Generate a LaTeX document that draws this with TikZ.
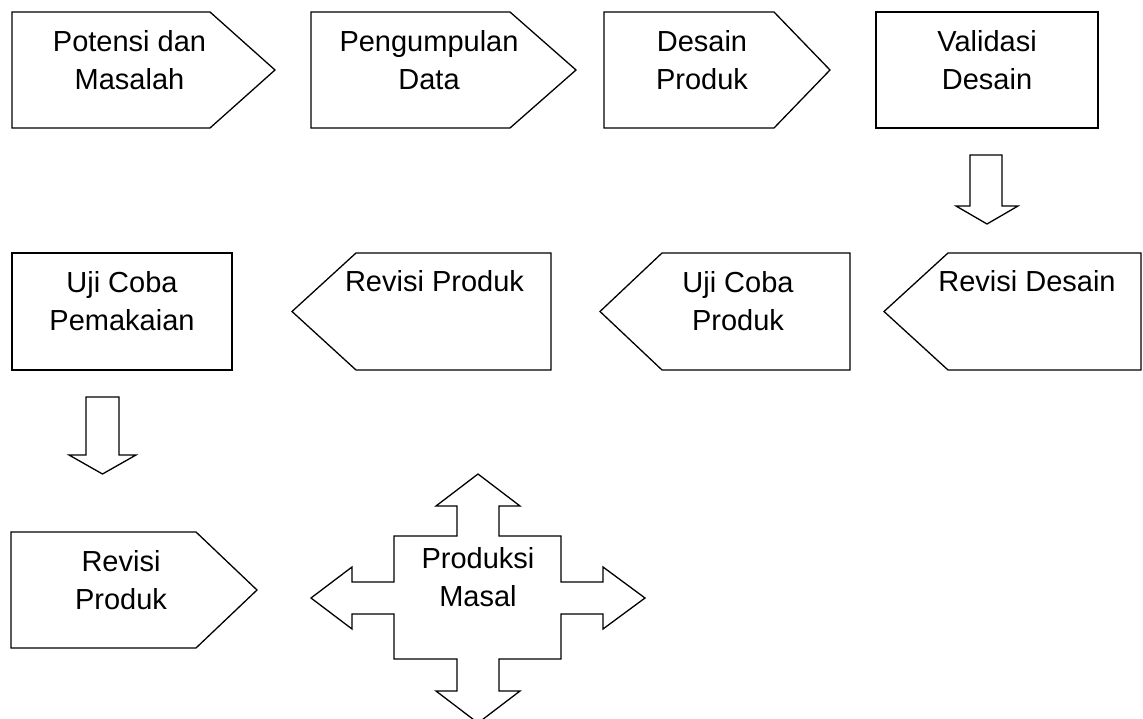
\documentclass[tikz,border=0pt]{standalone}
\usepackage{fontspec}
\setmainfont{Liberation Sans}
\newcommand{\twolines}[2]{\vtop{\halign{\hfil##\hfil\cr #1\cr #2\cr}}}
\begin{document}
\begin{tikzpicture}[x=1pt,y=-1pt,
  shp/.style={draw=black,line width=1.3pt,line join=miter,fill=white},
  lbl/.style={anchor=base,inner sep=0pt,font=\fontsize{29}{38}\selectfont}]
\useasboundingbox (0,0) rectangle (1143,719);
% Row 1
\draw[shp] (12,12) -- (210,12) -- (275,70) -- (210,128) -- (12,128) -- cycle;
\node[lbl] (t1) at (129.5,52) {\twolines{Potensi dan}{Masalah}};
\draw[shp] (311,12) -- (510,12) -- (576,70) -- (510,128) -- (311,128) -- cycle;
\node[lbl] (t2) at (429,52) {\twolines{Pengumpulan}{Data}};
\draw[shp] (604,12) -- (774,12) -- (830,70) -- (774,128) -- (604,128) -- cycle;
\node[lbl] (t3) at (702,52) {\twolines{Desain}{Produk}};
\draw[shp] (876,12) rectangle (1098,128);
\node[lbl] (t4) at (987,52) {\twolines{Validasi}{Desain}};
% arrow 1
\draw[shp] (970,155) -- (1002,155) -- (1002,206) -- (1018,206) -- (987,224) -- (956,206) -- (970,206) -- cycle;
% Row 2
\draw[shp] (1141,253) -- (948,253) -- (884,311.5) -- (948,370) -- (1141,370) -- cycle;
\node[lbl] (t5) at (1027,292) {Revisi Desain};
\draw[shp] (850,253) -- (662,253) -- (600,311.5) -- (662,370) -- (850,370) -- cycle;
\node[lbl] (t6) at (738,293) {\twolines{Uji Coba}{Produk}};
\draw[shp] (551,253) -- (356,253) -- (292,311.5) -- (356,370) -- (551,370) -- cycle;
\node[lbl] (t7) at (434.5,292) {Revisi Produk};
\draw[shp] (12,253) rectangle (232,370);
\node[lbl] (t8) at (122,293) {\twolines{Uji Coba}{Pemakaian}};
% arrow 2
\draw[shp] (86,397) -- (119,397) -- (119,455) -- (136,455) -- (102.5,474) -- (69,455) -- (86,455) -- cycle;
% Row 3
\draw[shp] (11,532) -- (196,532) -- (257,590) -- (196,648) -- (11,648) -- cycle;
\node[lbl] (t9) at (121,571) {\twolines{Revisi}{Produk}};
% cross arrow
\draw[shp] (478,474) -- (520,506) -- (499,506) -- (499,536) -- (561,536) -- (561,582) -- (603,582) -- (603,567)
  -- (645,598) -- (603,629) -- (603,614) -- (561,614) -- (561,659) -- (499,659) -- (499,691) -- (520,691)
  -- (478,723) -- (436,691) -- (457,691) -- (457,659) -- (394,659) -- (394,614) -- (352,614) -- (352,629)
  -- (311,598) -- (352,567) -- (352,582) -- (394,582) -- (394,536) -- (457,536) -- (457,506) -- (436,506) -- cycle;
\node[lbl] (t10) at (478,568) {\twolines{Produksi}{Masal}};
\end{tikzpicture}
\end{document}
